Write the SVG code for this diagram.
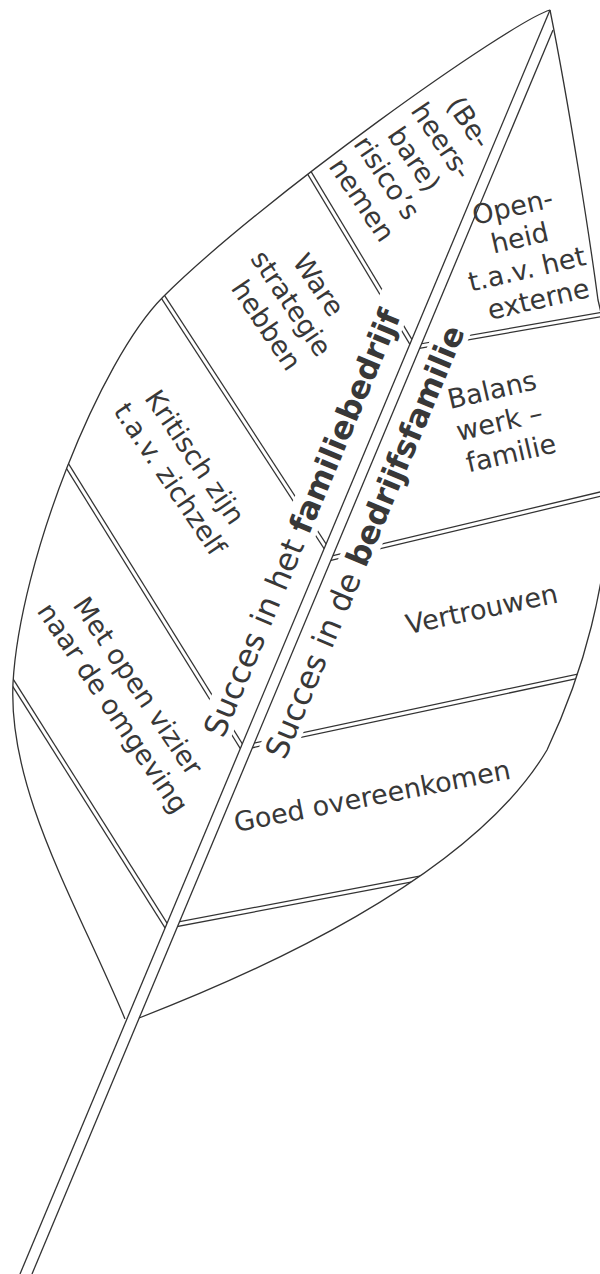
<svg xmlns="http://www.w3.org/2000/svg" width="600" height="1274" viewBox="0 0 600 1274">
  <style>
    .edge { fill: none; stroke: #333; stroke-width: 1.3; }
    .vein-outer { fill: none; stroke: #333; stroke-width: 5.5; }
    .vein-inner { fill: none; stroke: #fff; stroke-width: 3; }
    .lbl { font-family: "DejaVu Sans", Verdana, sans-serif; font-size: 27px; fill: #383838; text-anchor: middle; }
    .rib { font-family: "DejaVu Sans", Verdana, sans-serif; font-size: 31.5px; fill: #383838; }
    .box { fill: #fff; }
  </style>
  <defs>
    <!-- left leaf half: outline + left midrib line -->
    <clipPath id="half-left">
      <path d="M550,10 C510,22 260,200 163,297 C100,360 20,560 13,683 C8,790 75,900 125,1019 L127.3,1018 L550,10 Z"/>
    </clipPath>
    <!-- right leaf half: right midrib line + outline -->
    <clipPath id="half-right">
      <path d="M553,30 L139.2,1018 C250,975 470,880 547,750 C580,680 610,590 614,450 C614,400 608,340 598,300 C590,240 570,110 550,10 Z"/>
    </clipPath>
    <g id="veins-left-path">
      <path d="M289.6,140 L427.8,370"/>
      <path d="M139,260 L347,580"/>
      <path d="M38.9,420 L268.5,790"/>
      <path d="M-14,640 L187.8,960"/>
    </g>
    <g id="veins-right-path">
      <path d="M380,353.1 L650,306.1"/>
      <path d="M300,565.6 L660,479.9"/>
      <path d="M220,752.5 L620,667.2"/>
      <path d="M120,935.2 L500,863"/>
    </g>
  </defs>

  <rect width="600" height="1274" fill="#fff"/>

  <!-- connectors: side veins, leaf outline and midrib/stem -->
  <g id="connectors">
    <g clip-path="url(#half-left)">
      <use href="#veins-left-path" class="vein-outer"/>
      <use href="#veins-left-path" class="vein-inner"/>
    </g>
    <g clip-path="url(#half-right)">
      <use href="#veins-right-path" class="vein-outer"/>
      <use href="#veins-right-path" class="vein-inner"/>
    </g>
    <path class="edge" d="M550,10 C510,22 260,200 163,297 C100,360 20,560 13,683 C8,790 75,900 125,1019"/>
    <path class="edge" d="M139,1018 C250,975 470,880 547,750 C580,680 610,590 614,450 C614,400 608,340 598,300 C590,240 570,110 550,10"/>
    <line class="edge" x1="550" y1="10" x2="20" y2="1274"/>
    <line class="edge" x1="553" y1="30" x2="32" y2="1274"/>
  </g>

  <!-- midrib captions on white panels -->
  <g id="rib-familiebedrijf" transform="translate(223.3,739.3) rotate(-67.23)">
    <rect class="box" x="-7" y="-28" width="484" height="34.5"/>
    <text class="rib" x="0" y="0">Succes in het <tspan font-weight="bold">familiebedrijf</tspan></text>
  </g>
  <g id="rib-bedrijfsfamilie" transform="translate(284.8,761.1) rotate(-67.23)">
    <rect class="box" x="-7" y="-29" width="480" height="35"/>
    <text class="rib" x="0" y="0">Succes in de <tspan font-weight="bold">bedrijfsfamilie</tspan></text>
  </g>

  <!-- left leaf fields -->
  <g id="risico">
    <text class="lbl" transform="translate(415,164) rotate(56)">
      <tspan x="0" y="-58.7">(Be-</tspan>
      <tspan x="0" y="-25.7">heers-</tspan>
      <tspan x="0" y="7.3">bare)</tspan>
      <tspan x="0" y="40.3">risico’s</tspan>
      <tspan x="0" y="73.3">nemen</tspan>
    </text>
  </g>
  <g id="strategie">
    <text class="lbl" transform="translate(292,308) rotate(56)">
      <tspan x="0" y="-25.7">Ware</tspan>
      <tspan x="0" y="7.3">strategie</tspan>
      <tspan x="0" y="40.3">hebben</tspan>
    </text>
  </g>
  <g id="kritisch">
    <text class="lbl" transform="translate(182,471) rotate(56)">
      <tspan x="0" y="-9.2">Kritisch zijn</tspan>
      <tspan x="0" y="23.8">t.a.v. zichzelf</tspan>
    </text>
  </g>
  <g id="vizier">
    <text class="lbl" transform="translate(125,700) rotate(56)">
      <tspan x="0" y="-9.2">Met open vizier</tspan>
      <tspan x="0" y="23.8">naar de omgeving</tspan>
    </text>
  </g>

  <!-- right leaf fields -->
  <g id="openheid">
    <text class="lbl" transform="translate(528,254.5) rotate(-13)">
      <tspan x="0" y="-40.7">Open-</tspan>
      <tspan x="0" y="-8.7">heid</tspan>
      <tspan x="0" y="23.3">t.a.v. het</tspan>
      <tspan x="0" y="55.3">externe</tspan>
    </text>
  </g>
  <g id="balans">
    <text class="lbl" transform="translate(504,423) rotate(-13)">
      <tspan x="0" y="-25.7">Balans</tspan>
      <tspan x="0" y="7.3">werk –</tspan>
      <tspan x="0" y="40.3">familie</tspan>
    </text>
  </g>
  <g id="vertrouwen">
    <text class="lbl" transform="translate(482,611) rotate(-12)" x="0" y="7.3">Vertrouwen</text>
  </g>
  <g id="overeenkomen">
    <text class="lbl" transform="translate(372.5,798) rotate(-11)" x="0" y="7.3">Goed overeenkomen</text>
  </g>
</svg>
